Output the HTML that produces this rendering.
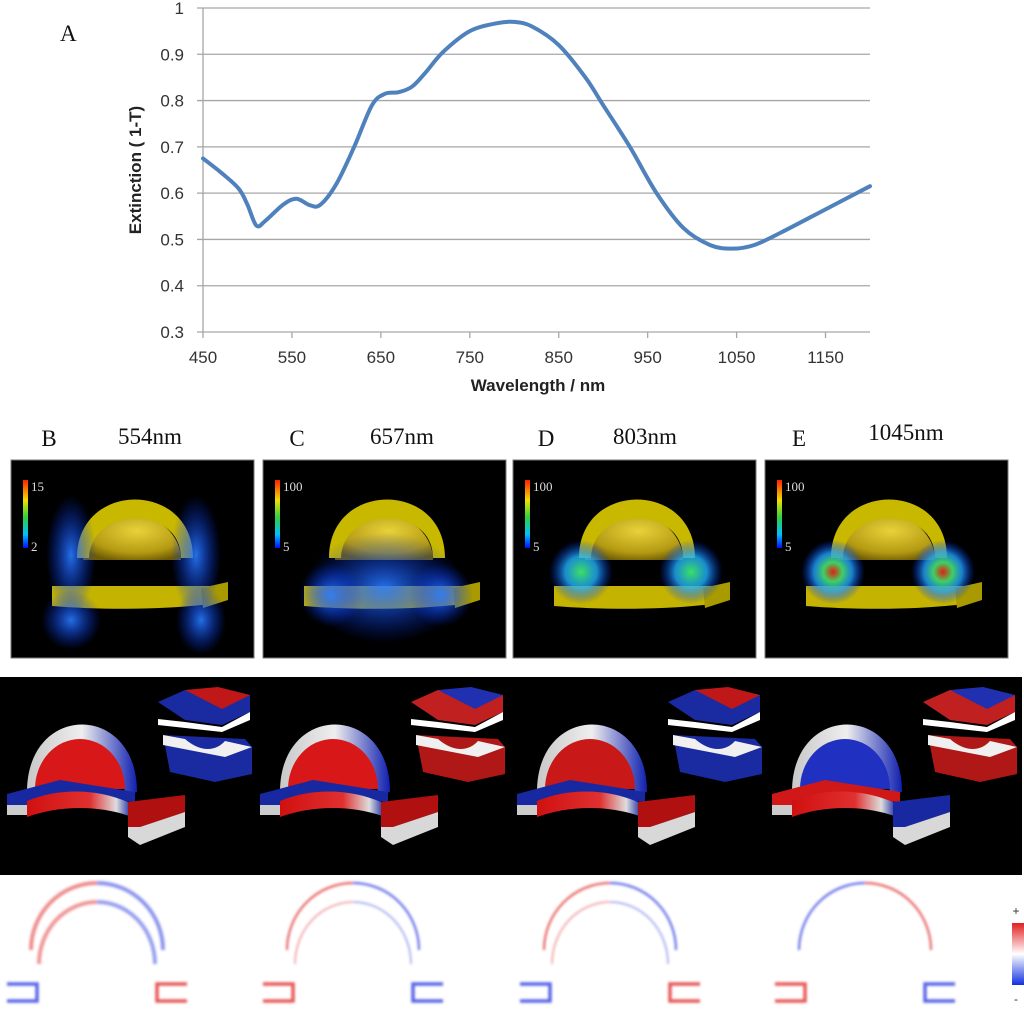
<!DOCTYPE html>
<html><head><meta charset="utf-8"><style>
html,body{margin:0;padding:0;background:#fff;}
body{width:1024px;height:1010px;position:relative;overflow:hidden;font-family:"Liberation Sans",sans-serif;}
svg{position:absolute;left:0;top:0;}
</style></head><body>
<svg id="s" width="1024" height="1010" viewBox="0 0 1024 1010">
<defs>
<radialGradient id="sph" cx="0.55" cy="0.35" r="0.7"><stop offset="0" stop-color="#e8d23a"/><stop offset="0.7" stop-color="#b49a12"/><stop offset="1" stop-color="#6e5c05"/></radialGradient>
<radialGradient id="glowB" cx="0.5" cy="0.5" r="0.5"><stop offset="0" stop-color="#2a7cff" stop-opacity="0.9"/><stop offset="1" stop-color="#0030ff" stop-opacity="0"/></radialGradient>
<radialGradient id="glowG" cx="0.5" cy="0.5" r="0.5"><stop offset="0" stop-color="#3ce060"/><stop offset="0.5" stop-color="#20b0ff" stop-opacity="0.8"/><stop offset="1" stop-color="#0030ff" stop-opacity="0"/></radialGradient>
<radialGradient id="glowR" cx="0.5" cy="0.5" r="0.5"><stop offset="0" stop-color="#e02010"/><stop offset="0.3" stop-color="#40d060"/><stop offset="0.6" stop-color="#20a0ff" stop-opacity="0.8"/><stop offset="1" stop-color="#0030ff" stop-opacity="0"/></radialGradient>
<linearGradient id="cbar" x1="0" y1="0" x2="0" y2="1"><stop offset="0" stop-color="#ff2000"/><stop offset="0.3" stop-color="#f0e000"/><stop offset="0.55" stop-color="#30d040"/><stop offset="0.8" stop-color="#00c0ff"/><stop offset="1" stop-color="#0010ff"/></linearGradient>
<linearGradient id="pm" x1="0" y1="0" x2="0" y2="1"><stop offset="0" stop-color="#e02020"/><stop offset="0.5" stop-color="#ffffff"/><stop offset="1" stop-color="#1030e0"/></linearGradient>
<linearGradient id="rw" x1="0" y1="0" x2="1" y2="0"><stop offset="0" stop-color="#d01010"/><stop offset="0.6" stop-color="#e03030"/><stop offset="0.85" stop-color="#ddd"/><stop offset="1" stop-color="#1020a0"/></linearGradient>
<linearGradient id="wb" x1="0" y1="0" x2="1" y2="0"><stop offset="0" stop-color="#c8c8c8"/><stop offset="0.5" stop-color="#eee"/><stop offset="1" stop-color="#1020b0"/></linearGradient>
<filter id="blur"><feGaussianBlur stdDeviation="1.2"/></filter>
</defs>
<g id="chart"></g>
<g id="panels"></g>
</svg>
<script>
const yTicks=[0.3,0.4,0.5,0.6,0.7,0.8,0.9,1];
const yTickLabels=["0.3","0.4","0.5","0.6","0.7","0.8","0.9","1"];
const xTicks=[450,550,650,750,850,950,1050,1150];
const xTickLabels=["450","550","650","750","850","950","1050","1150"];
const wavelength=[450,470,490,500,510,520,540,555,570,582,600,620,640,655,670,685,700,720,750,780,800,820,850,880,900,930,960,990,1020,1045,1070,1100,1150,1200];
const extinction=[0.675,0.645,0.61,0.575,0.53,0.54,0.575,0.588,0.574,0.575,0.62,0.7,0.79,0.815,0.818,0.83,0.86,0.905,0.95,0.967,0.97,0.96,0.92,0.85,0.79,0.7,0.6,0.525,0.488,0.48,0.488,0.515,0.565,0.615];
const panelLabels=["B","C","D","E"];
const panelWavelengths=["554nm","657nm","803nm","1045nm"];
const NS="http://www.w3.org/2000/svg";
const X0=203,X1=870,Y0=332,Y1=8;
const xs=v=>X0+(v-450)/(1200-450)*(X1-X0);
const ys=v=>Y0-(v-0.3)/(1-0.3)*(Y0-Y1);
function mk(tag,attrs,parent,txt){const e=document.createElementNS(NS,tag);for(const k in attrs)e.setAttribute(k,attrs[k]);if(txt!==undefined)e.textContent=txt;parent.appendChild(e);return e;}
const chart=document.getElementById('chart');
yTicks.forEach((t,i)=>{
 const g=mk('line',{x1:X0-6,x2:X1,y1:ys(t),y2:ys(t),stroke:'#a6a6a6','stroke-width':1.3},chart);
 
 
 const l=mk('text',{x:184,y:ys(t)+6,'text-anchor':'end','font-size':17,fill:'#333'},chart,yTickLabels[i]);
 
 
});
const ax=mk('line',{x1:X0,x2:X0,y1:Y1,y2:Y0,stroke:'#a6a6a6','stroke-width':1.3},chart);


xTicks.forEach((t,i)=>{
 const tk=mk('line',{x1:xs(t),x2:xs(t),y1:Y0,y2:Y0+6,stroke:'#a6a6a6','stroke-width':1.3},chart);
 
 
 const l=mk('text',{x:xs(t),y:Y0+31,'text-anchor':'middle','font-size':17,fill:'#333'},chart,xTickLabels[i]);
 
 
});
const xt=mk('text',{x:538,y:391,'text-anchor':'middle','font-size':17,'font-weight':'bold',fill:'#222'},chart,'Wavelength / nm');


const yt=mk('text',{x:0,y:0,transform:'translate(141,170) rotate(-90)','text-anchor':'middle','font-size':17,'font-weight':'bold',fill:'#222'},chart,'Extinction ( 1-T)');


const at=mk('text',{x:60,y:41,'font-size':23,'font-family':'Liberation Serif,serif',fill:'#111'},chart,'A');


// curve
const P=wavelength.map((w,i)=>[xs(w),ys(extinction[i])]);
let d='M'+P[0][0]+','+P[0][1];
for(let i=0;i<P.length-1;i++){const p0=P[Math.max(0,i-1)],p1=P[i],p2=P[i+1],p3=P[Math.min(P.length-1,i+2)];
 d+=' C'+(p1[0]+(p2[0]-p0[0])/6)+','+(p1[1]+(p2[1]-p0[1])/6)+' '+(p2[0]-(p3[0]-p1[0])/6)+','+(p2[1]-(p3[1]-p1[1])/6)+' '+p2[0]+','+p2[1];}
const cv=mk('path',{d:d,fill:'none',stroke:'#4f81bd','stroke-width':4,'stroke-linecap':'round'},chart);



const pn=document.getElementById('panels');
// labels row
const lblX=[49,297,546,799],wlX=[150,402,645,906];
panelLabels.forEach((L,i)=>{
 const a=mk('text',{x:lblX[i],y:446,'text-anchor':'middle','font-size':23,'font-family':'Liberation Serif,serif',fill:'#111'},pn,L);
 
 
 const b=mk('text',{x:wlX[i],y:i==3?440:444,'text-anchor':'middle','font-size':23,'font-family':'Liberation Serif,serif',fill:'#111'},pn,panelWavelengths[i]);
 
 
});
// row 1 panels
const px=[11,263,513,765],scaleTop=["15","100","100","100"],scaleBot=["2","5","5","5"];
px.forEach((x0,i)=>{
 const g=mk('g',{transform:'translate('+x0+',460)'},pn);
 
 
 mk('rect',{x:0,y:0,width:243,height:198,fill:'#000',stroke:'#777','stroke-width':1},g);
 mk('rect',{x:12,y:20,width:5,height:68,fill:'url(#cbar)'},g);
 mk('text',{x:20,y:31,'font-size':13,'font-family':'Liberation Serif,serif',fill:'#ddd'},g,scaleTop[i]);
 mk('text',{x:20,y:91,'font-size':13,'font-family':'Liberation Serif,serif',fill:'#ddd'},g,scaleBot[i]);
 // sphere
 mk('path',{d:'M72,100 A49,45 0 0 1 170,100 Z',fill:'url(#sph)'},g);
 // shell
 mk('path',{d:'M66,98 C66,20 182,20 182,98 L170,98 C170,45 80,45 78,98 Z',fill:'#c8b800'},g);
 // gap + slab
 mk('rect',{x:50,y:108,width:150,height:16,fill:'#000'},g);
 mk('path',{d:'M41,126 L200,126 L200,144 C150,150 90,150 41,146 Z',fill:'#c4b300'},g);
 mk('path',{d:'M190,128 L217,122 L217,140 L192,148 Z',fill:'#a89a00'},g);
 const gl=[ 'glowB','glowB','glowG','glowR'][i];
 if(i==1){mk('ellipse',{cx:121,cy:128,rx:80,ry:55,fill:'url(#glowB)'},g);}
 if(i==0){mk('ellipse',{cx:60,cy:95,rx:25,ry:60,fill:'url(#glowB)'},g);mk('ellipse',{cx:185,cy:95,rx:25,ry:60,fill:'url(#glowB)'},g);mk('ellipse',{cx:60,cy:160,rx:30,ry:30,fill:'url(#glowB)'},g);mk('ellipse',{cx:190,cy:160,rx:25,ry:35,fill:'url(#glowB)'},g);}
 else{mk('ellipse',{cx:68,cy:i==1?135:112,rx:32,ry:32,fill:'url(#'+gl+')'},g);mk('ellipse',{cx:178,cy:i==1?135:112,rx:32,ry:32,fill:'url(#'+gl+')'},g);}
});
// row 2 band
const band=mk('rect',{x:0,y:677,width:1022,height:198,fill:'#000'},pn);


const offs=[0,253,510,765];
const domeFill=['#d81818','#d81818','#c81818','#2030c0'];
offs.forEach((o,i)=>{
 const g=mk('g',{transform:'translate('+o+',677)'},pn);
 
 
 mk('path',{d:'M27,115 C27,25 137,25 137,115 L125,118 C122,55 40,55 38,115 Z',fill:'url(#wb)'},g);
 mk('path',{d:'M35,112 A45,50 0 0 1 125,112 Z',fill:domeFill[i]},g);
 mk('path',{d:'M7,117 L60,103 L135,115 L135,125 L60,120 L27,135 L7,135 Z',fill:i==3?'#d01818':'#1828a0'},g);
 mk('path',{d:'M27,124 C60,110 100,112 130,126 L132,140 C100,128 60,128 27,140 Z',fill:'url(#rw)'},g);
 mk('rect',{x:7,y:128,width:20,height:10,fill:'#ccc'},g);
 mk('path',{d:'M128,125 L185,118 L185,135 L140,150 L128,150 Z',fill:i==3?'#1828a0':'#b01010'},g);
 mk('path',{d:'M128,150 L140,150 L185,135 L185,150 L140,168 L128,160 Z',fill:'#d8d8d8'},g);
 mk('path',{d:'M158,25 L185,13 L250,18 L250,35 L222,48 L185,43 Z',fill:i%2?'#c02020':'#1a2aa0'},g);
 mk('path',{d:'M185,13 L218,10 L250,18 L222,32 Z',fill:i%2?'#2030b0':'#c01818'},g);
 mk('path',{d:'M158,42 L185,45 L222,50 L250,35 L250,43 L222,55 L158,48 Z',fill:'#fff'},g);
 mk('path',{d:'M163,58 L245,62 L252,70 L252,97 L215,105 L170,95 Z',fill:i%2?'#b01818':'#1a2aa0'},g);
 mk('path',{d:'M163,58 L185,62 C200,75 215,75 225,64 L252,70 L225,80 L163,68 Z',fill:'#f0f0f0'},g);
});
// row 3 arcs
const arcCol=[['#e03030','#3040e0'],['#e03030','#3040e0'],['#e03030','#3040e0'],['#3040e0','#e03030']];
const brCol=[['#3040e0','#e03030'],['#e03030','#3040e0'],['#3040e0','#e03030'],['#e03030','#3040e0']];
offs.forEach((o,i)=>{
 const g=mk('g',{transform:'translate('+o+',0)',filter:'url(#blur)'},pn);
 
 
 const cx=97+(i?3:0),cy=950,op=i==0?0.55:0.75,w=i==0?4:2.2;
 mk('path',{d:'M'+(cx-66)+','+cy+' A66,67 0 0 1 '+cx+','+(cy-67),fill:'none',stroke:arcCol[i][0],'stroke-width':w,opacity:op},g);
 mk('path',{d:'M'+cx+','+(cy-67)+' A66,67 0 0 1 '+(cx+66)+','+cy,fill:'none',stroke:arcCol[i][1],'stroke-width':w,opacity:op},g);
 if(i<3){mk('path',{d:'M'+(cx-58)+','+(cy+14)+' A58,62 0 0 1 '+cx+','+(cy-48),fill:'none',stroke:arcCol[i][0],'stroke-width':i==0?4:1.5,opacity:0.5},g);
 mk('path',{d:'M'+cx+','+(cy-48)+' A58,62 0 0 1 '+(cx+58)+','+(cy+14),fill:'none',stroke:arcCol[i][1],'stroke-width':i==0?4:1.5,opacity:0.5},g);}
 mk('path',{d:'M'+(cx-90)+',984 L'+(cx-60)+',984 L'+(cx-60)+',1001 L'+(cx-90)+',1001',fill:'none',stroke:brCol[i][0],'stroke-width':3.5,opacity:0.8},g);
 mk('path',{d:'M'+(cx+90)+',984 L'+(cx+60)+',984 L'+(cx+60)+',1001 L'+(cx+90)+',1001',fill:'none',stroke:brCol[i][1],'stroke-width':3.5,opacity:0.8},g);
});
const cb=mk('rect',{x:1012,y:923,width:12,height:62,fill:'url(#pm)'},pn);


const cp=mk('text',{x:1016,y:915,'text-anchor':'middle','font-size':12,fill:'#333'},pn,'+');


const cm=mk('text',{x:1016,y:1003,'text-anchor':'middle','font-size':12,fill:'#333'},pn,'-');


</script>
</body></html>
